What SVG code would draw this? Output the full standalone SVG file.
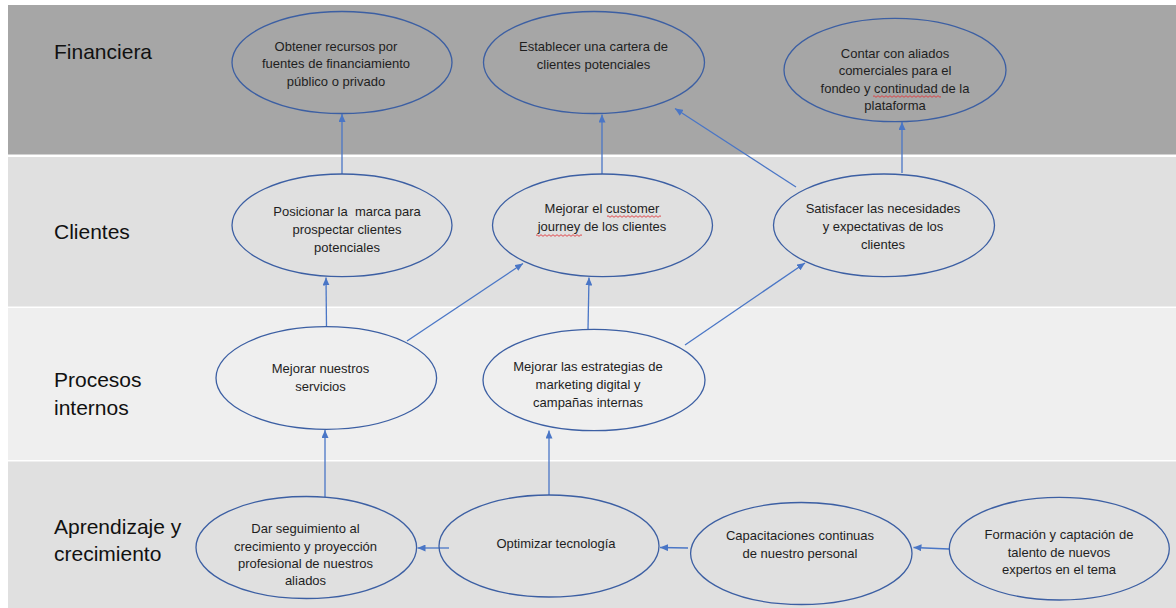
<svg xmlns="http://www.w3.org/2000/svg" width="1176" height="608" viewBox="0 0 1176 608">
<style>
.band-label{font-family:"Liberation Sans",Arial,sans-serif;font-size:21px;fill:#111}
.node ellipse{fill:none;stroke:#3c5fa3;stroke-width:1.3}
.node text{font-family:"Liberation Sans",Arial,sans-serif;font-size:13px;fill:#1e1e1e;text-anchor:middle}
.conn line{stroke:#4a76c6;stroke-width:1.3;fill:none}
.squig{fill:none;stroke:#e0383c;stroke-width:0.9}
</style>
<defs>
<marker id="ah" markerUnits="userSpaceOnUse" markerWidth="8" markerHeight="7" refX="8" refY="3.5" orient="auto">
<path d="M0,0 L8,3.5 L0,7 z" fill="#4a76c6"/>
</marker>
</defs>
<rect width="1176" height="608" fill="#ffffff"/>
<g id="bands">
<rect x="8" y="5" width="1168" height="149.5" fill="#a6a6a6"/>
<rect x="8" y="157" width="1168" height="149.5" fill="#e0e0e0"/>
<rect x="8" y="308" width="1168" height="152" fill="#efefef"/>
<rect x="8" y="461.5" width="1168" height="146.5" fill="#e0e0e0"/>
<text class="band-label" x="54" y="59">Financiera</text>
<text class="band-label" x="54" y="239">Clientes</text>
<text class="band-label" x="54" y="387">Procesos</text>
<text class="band-label" x="54" y="415">internos</text>
<text class="band-label" x="54" y="534">Aprendizaje y</text>
<text class="band-label" x="54" y="561">crecimiento</text>
</g>
<g id="connectors" class="conn">
<line x1="342" y1="174" x2="342" y2="114" marker-end="url(#ah)"/>
<line x1="602" y1="174" x2="602" y2="114.5" marker-end="url(#ah)"/>
<line x1="796" y1="187" x2="675" y2="108.5" marker-end="url(#ah)"/>
<line x1="902" y1="173" x2="902" y2="122" marker-end="url(#ah)"/>
<line x1="326.5" y1="327" x2="326" y2="277.5" marker-end="url(#ah)"/>
<line x1="407" y1="341" x2="523" y2="263.5" marker-end="url(#ah)"/>
<line x1="588" y1="329.5" x2="589" y2="277.5" marker-end="url(#ah)"/>
<line x1="685" y1="345" x2="805" y2="263" marker-end="url(#ah)"/>
<line x1="325" y1="497" x2="325" y2="430" marker-end="url(#ah)"/>
<line x1="549" y1="495" x2="549" y2="430.5" marker-end="url(#ah)"/>
<line x1="449" y1="548" x2="417.5" y2="548" marker-end="url(#ah)"/>
<line x1="688" y1="548" x2="660" y2="547.5" marker-end="url(#ah)"/>
<line x1="949" y1="549" x2="913.5" y2="547.5" marker-end="url(#ah)"/>
</g>
<g id="n-obtener" class="node">
<ellipse cx="342" cy="62.5" rx="110" ry="51"/>
<text x="336" y="50.5">Obtener recursos por</text>
<text x="336" y="68">fuentes de financiamiento</text>
<text x="336" y="85.5">público o privado</text>
</g>
<g id="n-cartera" class="node">
<ellipse cx="594" cy="62.5" rx="110.5" ry="51"/>
<text x="593.5" y="51">Establecer una cartera de</text>
<text x="593.5" y="69">clientes potenciales</text>
</g>
<g id="n-aliados" class="node">
<ellipse cx="895" cy="70" rx="111" ry="51.7"/>
<text x="895" y="57.5">Contar con aliados</text>
<text x="895" y="75">comerciales para el</text>
<text x="895" y="92.5">fondeo y continudad de la</text>
<text x="895" y="110">plataforma</text>
</g>
<g id="n-posicionar" class="node">
<ellipse cx="342" cy="225.3" rx="110" ry="51.3"/>
<text x="347" y="216" xml:space="preserve">Posicionar la  marca para</text>
<text x="347" y="234">prospectar clientes</text>
<text x="347" y="251.5">potenciales</text>
</g>
<g id="n-journey" class="node">
<ellipse cx="602.5" cy="225.3" rx="110" ry="51.3"/>
<text x="602" y="212.5">Mejorar el customer</text>
<text x="602" y="231">journey de los clientes</text>
</g>
<g id="n-satisfacer" class="node">
<ellipse cx="884" cy="225.3" rx="110.5" ry="51.3"/>
<text x="883" y="212.5">Satisfacer las necesidades</text>
<text x="883" y="231">y expectativas de los</text>
<text x="883" y="248.5">clientes</text>
</g>
<g id="n-servicios" class="node">
<ellipse cx="326.3" cy="378" rx="110.3" ry="51.3"/>
<text x="320.5" y="373">Mejorar nuestros</text>
<text x="320.5" y="391">servicios</text>
</g>
<g id="n-marketing" class="node">
<ellipse cx="594" cy="380" rx="111" ry="50.7"/>
<text x="588" y="371">Mejorar las estrategias de</text>
<text x="588" y="389">marketing digital y</text>
<text x="588" y="406.5">campañas internas</text>
</g>
<g id="n-seguimiento" class="node">
<ellipse cx="306.3" cy="547.5" rx="110.3" ry="51"/>
<text x="305.5" y="532.5">Dar seguimiento al</text>
<text x="305.5" y="550.5">crecimiento y proyección</text>
<text x="305.5" y="567.5">profesional de nuestros</text>
<text x="305.5" y="585">aliados</text>
</g>
<g id="n-tecnologia" class="node">
<ellipse cx="549" cy="546" rx="110" ry="51"/>
<text x="556" y="547.5">Optimizar tecnología</text>
</g>
<g id="n-capacitaciones" class="node">
<ellipse cx="801.3" cy="553.5" rx="110.7" ry="51"/>
<text x="800" y="539.5">Capacitaciones continuas</text>
<text x="800" y="557.5">de nuestro personal</text>
</g>
<g id="n-formacion" class="node">
<ellipse cx="1059.3" cy="548.7" rx="110" ry="51.3"/>
<text x="1059" y="539">Formación y captación de</text>
<text x="1059" y="556.5">talento de nuevos</text>
<text x="1059" y="573.5">expertos en el tema</text>
</g>
<g id="spellcheck">
<path class="squig" d="M873,96.5 q1,-1.6 2,0 t2,0 t2,0 t2,0 t2,0 t2,0 t2,0 t2,0 t2,0 t2,0 t2,0 t2,0 t2,0 t2,0 t2,0 t2,0 t2,0 t2,0 t2,0 t2,0 t2,0 t2,0 t2,0 t2,0 t2,0 t2,0 t2,0 t2,0 t2,0 t2,0 t2,0 t2,0 t2,0 t2,0"/>
<path class="squig" d="M607,216.5 q1,-1.6 2,0 t2,0 t2,0 t2,0 t2,0 t2,0 t2,0 t2,0 t2,0 t2,0 t2,0 t2,0 t2,0 t2,0 t2,0 t2,0 t2,0 t2,0 t2,0 t2,0 t2,0 t2,0 t2,0 t2,0 t2,0 t2,0 t2,0"/>
<path class="squig" d="M536,235.5 q1,-1.6 2,0 t2,0 t2,0 t2,0 t2,0 t2,0 t2,0 t2,0 t2,0 t2,0 t2,0 t2,0 t2,0 t2,0 t2,0 t2,0 t2,0 t2,0 t2,0 t2,0 t2,0 t2,0 t2,0"/>
</g>
</svg>
